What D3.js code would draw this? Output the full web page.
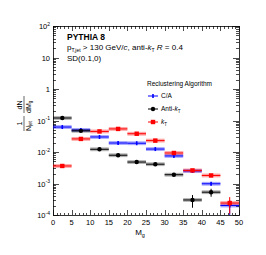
<!DOCTYPE html>
<html lang="en">
<head>
    <meta charset="UTF-8">
    <title>Groomed jet mass by reclustering algorithm</title>
    <style>
        body {
            margin: 0;
            background: #fff;
        }

        svg text {
            font-family: 'Liberation Sans', Arial, Helvetica, sans-serif;
            fill: #000;
        }

        .tick-label {
            font-size: 7.5px;
        }

        .legend text {
            font-size: 6.5px;
        }
    </style>
</head>
<body>
    <div id="plot"></div>

    <script src="https://d3js.org/d3.v7.min.js"></script>
    <script>
        // bins of width 5 in M_g
        const binCenters = [2.5, 7.5, 12.5, 17.5, 22.5, 27.5, 32.5, 37.5, 42.5, 47.5];
        const binHalfWidth = 2.5;

        // 1/N_jet dN/dM_g
        const caValues = [0.062, 0.050, 0.030, 0.0193, 0.019, 0.0124, 0.0075, 0.0025, 0.00098, 0.0002];
        const antiKtValues = [0.12, 0.047, 0.0122, 0.0079, 0.0048, 0.0041, 0.0019, 0.0003, 0.00053, null];
        const ktValues = [0.0036, 0.026, 0.045, 0.054, 0.038, 0.023, 0.0093, 0.0026, 0.0018, 0.00024];

        // statistical errors
        const caErrors = [0.002, 0.0015, 0.001, 0.0007, 0.0007, 0.0005, 0.0003, 0.00015, 0.0001, 0.0001];
        const antiKtErrors = [0.003, 0.0015, 0.0006, 0.0004, 0.0003, 0.0003, 0.0002, 0.00013, 0.00015, null];
        const ktErrors = [0.0003, 0.001, 0.0012, 0.0013, 0.001, 0.0008, 0.0005, 0.00018, 0.00018, 0.00013];

        const xTicks = [0, 5, 10, 15, 20, 25, 30, 35, 40, 45, 50];
        const yExponents = [-4, -3, -2, -1, 0, 1, 2];

        const width = 266;
        const height = 255;
        const frame = { left: 53, right: 239, top: 26, bottom: 215 };
        const sysFrac = 0.15;

        const xScale = d3.scaleLinear()
            .domain([0, 50])
            .range([frame.left, frame.right]);

        const yScale = d3.scaleLog()
            .domain([1e-4, 1e2])
            .range([frame.bottom, frame.top]);

        const series = [
            { name: 'C/A', values: caValues, errors: caErrors, color: '#0000ff', box: 'rgba(0,0,255,0.35)', marker: 'plus' },
            { name: 'Anti-kT', values: antiKtValues, errors: antiKtErrors, color: '#000000', box: 'rgba(0,0,0,0.3)', marker: 'circle' },
            { name: 'kT', values: ktValues, errors: ktErrors, color: '#ff0000', box: 'rgba(255,0,0,0.35)', marker: 'square' }
        ];

        const svg = d3.select('#plot')
            .append('svg')
            .attr('width', width)
            .attr('height', height);

        svg.append('rect')
            .attr('width', width)
            .attr('height', height)
            .attr('fill', '#fff');

        // ticks, ROOT style: inside the frame on all four sides
        const axes = svg.append('g')
            .attr('stroke', '#000')
            .attr('stroke-width', 0.7)
            .attr('shape-rendering', 'crispEdges');

        d3.range(0, 51, 1).forEach(v => {
            const len = v % 5 === 0 ? 5 : 2.5;
            const x = Math.round(xScale(v)) + 0.5;
            axes.append('line').attr('x1', x).attr('x2', x)
                .attr('y1', frame.bottom).attr('y2', frame.bottom - len);
            axes.append('line').attr('x1', x).attr('x2', x)
                .attr('y1', frame.top).attr('y2', frame.top + len);
        });

        yExponents.forEach(e => {
            for (let m = 1; m < 10; m++) {
                const v = m * Math.pow(10, e);
                if (v > 1e2) break;
                const len = m === 1 ? 6 : 3;
                const y = Math.round(yScale(v)) + 0.5;
                axes.append('line').attr('x1', frame.left).attr('x2', frame.left + len)
                    .attr('y1', y).attr('y2', y);
                axes.append('line').attr('x1', frame.right).attr('x2', frame.right - len)
                    .attr('y1', y).attr('y2', y);
            }
        });

        svg.append('rect')
            .attr('x', frame.left + 0.5)
            .attr('y', frame.top + 0.5)
            .attr('width', frame.right - frame.left)
            .attr('height', frame.bottom - frame.top)
            .attr('fill', 'none')
            .attr('stroke', '#000')
            .attr('stroke-width', 0.8)
            .attr('shape-rendering', 'crispEdges');

        // tick labels
        svg.append('g')
            .selectAll('text')
            .data(xTicks)
            .enter()
                .append('text')
                .attr('class', 'tick-label')
                .attr('x', d => xScale(d))
                .attr('y', frame.bottom + 10)
                .attr('text-anchor', 'middle')
                .text(d => d);

        const yLabels = svg.append('g');
        yExponents.forEach(e => {
            const t = yLabels.append('text')
                .attr('class', 'tick-label')
                .attr('x', frame.left - 3)
                .attr('y', yScale(Math.pow(10, e)) + 3)
                .attr('text-anchor', 'end');
            if (e === 0) {
                t.text('1');
            } else if (e === 1) {
                t.text('10');
            } else {
                t.append('tspan').text('10');
                t.append('tspan').attr('dy', -3.5).attr('font-size', 5).text(e);
            }
        });

        // axis titles
        const xTitle = svg.append('text')
            .attr('x', 140)
            .attr('y', 235)
            .attr('text-anchor', 'middle')
            .attr('font-size', 8);
        xTitle.append('tspan').text('M');
        xTitle.append('tspan').attr('font-size', 5.5).attr('dy', 2).text('g');

        const yTitle = svg.append('g')
            .attr('transform', 'translate(24,113) rotate(-90)')
            .attr('font-size', 7);
        yTitle.append('text').attr('x', -10.5).attr('y', -2).attr('text-anchor', 'middle').text('1');
        yTitle.append('text').attr('x', 8).attr('y', -2).attr('text-anchor', 'middle').text('dN');
        yTitle.append('line').attr('x1', -18).attr('x2', -3).attr('y1', 0).attr('y2', 0)
            .attr('stroke', '#000').attr('stroke-width', 0.6);
        yTitle.append('line').attr('x1', 0).attr('x2', 17).attr('y1', 0).attr('y2', 0)
            .attr('stroke', '#000').attr('stroke-width', 0.6);
        const nJet = yTitle.append('text').attr('x', -18).attr('y', 6.5);
        nJet.append('tspan').text('N');
        nJet.append('tspan').attr('font-size', 4.5).attr('dy', 1.5).text('jet');
        const dMg = yTitle.append('text').attr('x', 0).attr('y', 6.5);
        dMg.append('tspan').text('dM');
        dMg.append('tspan').attr('font-size', 4.5).attr('dy', 1.5).text('g');

        // data
        const plotArea = svg.append('g');

        series.forEach(s => {
            const pts = binCenters
                .map((c, i) => ({ x: c, y: s.values[i], err: s.errors[i] }))
                .filter(d => d.y !== null);
            const g = plotArea.append('g');

            // systematic boxes
            g.selectAll('rect.sys')
                .data(pts)
                .enter()
                    .append('rect')
                    .attr('class', 'sys')
                    .attr('x', d => xScale(d.x - binHalfWidth))
                    .attr('width', d => xScale(d.x + binHalfWidth) - xScale(d.x - binHalfWidth))
                    .attr('y', d => yScale(d.y * (1 + sysFrac)))
                    .attr('height', d => yScale(d.y / (1 + sysFrac)) - yScale(d.y * (1 + sysFrac)))
                    .attr('fill', s.box);

            // horizontal bin bars
            g.selectAll('line.hbar')
                .data(pts)
                .enter()
                    .append('line')
                    .attr('x1', d => xScale(d.x - binHalfWidth))
                    .attr('x2', d => xScale(d.x + binHalfWidth))
                    .attr('y1', d => yScale(d.y))
                    .attr('y2', d => yScale(d.y))
                    .attr('stroke', s.color)
                    .attr('stroke-width', 1);

            // stat errors
            g.selectAll('line.vbar')
                .data(pts)
                .enter()
                    .append('line')
                    .attr('x1', d => xScale(d.x))
                    .attr('x2', d => xScale(d.x))
                    .attr('y1', d => yScale(d.y + d.err))
                    .attr('y2', d => yScale(Math.max(d.y - d.err, 1e-5)))
                    .attr('stroke', s.color)
                    .attr('stroke-width', 1);

            drawMarkers(g, pts.map(d => [xScale(d.x), yScale(d.y)]), s);
        });

        function drawMarkers(g, coords, s) {
            coords.forEach(([x, y]) => {
                if (s.marker === 'circle') {
                    g.append('circle').attr('cx', x).attr('cy', y).attr('r', 2.2).attr('fill', s.color);
                } else if (s.marker === 'square') {
                    g.append('rect').attr('x', x - 2.2).attr('y', y - 2.2)
                        .attr('width', 4.4).attr('height', 4.4).attr('fill', s.color);
                } else {
                    g.append('rect').attr('x', x - 0.8).attr('y', y - 2)
                        .attr('width', 1.6).attr('height', 4).attr('fill', s.color);
                }
            });
        }

        // header text
        svg.append('text')
            .attr('x', 67).attr('y', 40)
            .attr('font-size', 8.5).attr('font-weight', 'bold')
            .text('PYTHIA 8');

        const cuts = svg.append('text')
            .attr('x', 67).attr('y', 50)
            .attr('font-size', 8);
        cuts.append('tspan').text('p');
        cuts.append('tspan').attr('font-size', 5).attr('dy', 2).text('T,jet');
        cuts.append('tspan').attr('dy', -2).text(' > 130 GeV/');
        cuts.append('tspan').attr('font-style', 'italic').text('c');
        cuts.append('tspan').text(', anti-');
        cuts.append('tspan').attr('font-style', 'italic').text('k');
        cuts.append('tspan').attr('font-size', 5).attr('dy', 2).text('T');
        cuts.append('tspan').attr('dy', -2).text(' ');
        cuts.append('tspan').attr('font-style', 'italic').text('R');
        cuts.append('tspan').text(' = 0.4');

        svg.append('text')
            .attr('x', 67).attr('y', 61)
            .attr('font-size', 8)
            .text('SD(0.1,0)');

        // legend
        const legend = svg.append('g').attr('class', 'legend');
        legend.append('text').attr('x', 147).attr('y', 86).text('Reclustering Algorithm');

        const legendRows = [96, 109, 122];
        series.forEach((s, i) => {
            const y = legendRows[i];
            const row = legend.append('g');
            row.append('line').attr('x1', 148).attr('x2', 158).attr('y1', y).attr('y2', y)
                .attr('stroke', s.color).attr('stroke-width', 1);
            drawMarkers(row, [[153, y]], s);
            const t = row.append('text').attr('x', 161).attr('y', y + 2.3);
            if (s.name === 'C/A') {
                t.text('C/A');
            } else if (s.name === 'Anti-kT') {
                t.append('tspan').text('Anti-');
                t.append('tspan').attr('font-style', 'italic').text('k');
                t.append('tspan').attr('font-size', 4.5).attr('dy', 2).text('T');
            } else {
                t.append('tspan').attr('font-style', 'italic').text('k');
                t.append('tspan').attr('font-size', 4.5).attr('dy', 2).text('T');
            }
        });
    </script>
</body>
</html>
